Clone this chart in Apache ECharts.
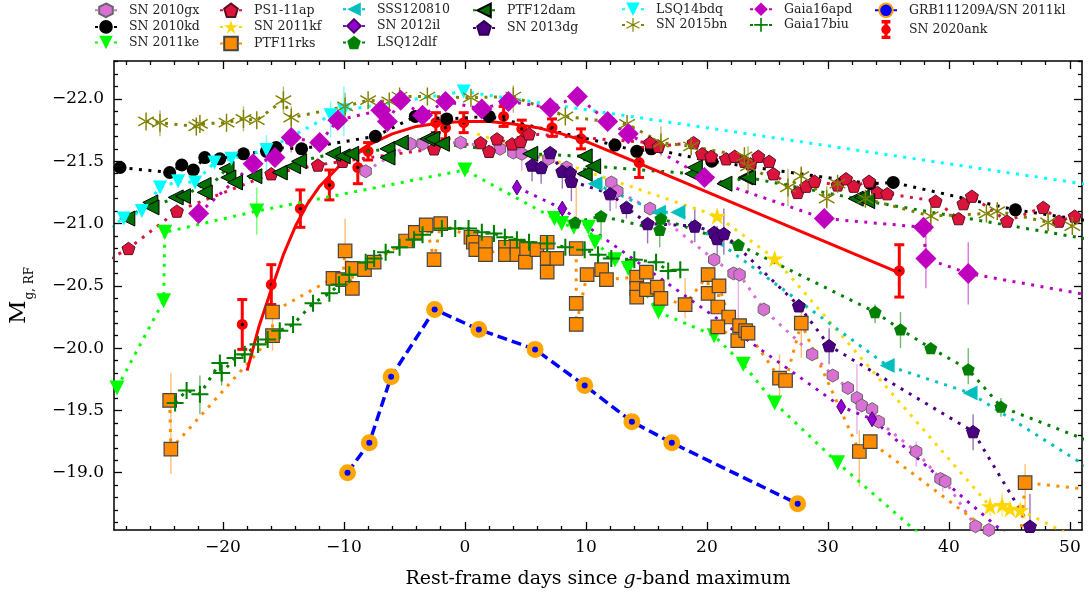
<!DOCTYPE html>
<html><head><meta charset="utf-8">
<script src="https://cdn.jsdelivr.net/npm/echarts@6/dist/echarts.min.js"></script>
<style>html,body{margin:0;padding:0;background:#fff}#c{width:1090px;height:594px}</style>
</head><body><div id="c"></div>
<script>
// ---------------- data: [rest-frame day, M_g] ----------------
const sn2010gx = [[-8.2,-21.42],[-4.5,-21.64],[-3.5,-21.64],[-0.35,-21.65],[2.9,-21.60],[4.0,-21.57],[4.7,-21.56],[6.9,-21.52],[8.4,-21.45],[8.55,-21.41],[12.1,-21.33],[12.6,-21.26],[15.3,-21.12],[20.6,-20.71],[22.2,-20.60],[22.7,-20.59],[24.7,-20.31],[28.7,-19.95],[30.4,-19.78],[31.65,-19.68],[32.4,-19.60],[32.8,-19.54],[33.65,-19.51],[34.2,-19.41],[37.3,-19.17],[39.3,-18.95],[39.7,-18.93],[42.2,-18.57],[43.3,-18.54],[46,-18.3]];
const sn2010kd = [[-28.5,-21.45],[-24.4,-21.41],[-23.4,-21.47],[-22.45,-21.43],[-21.5,-21.53],[-20.25,-21.52],[-18.3,-21.56],[-16.4,-21.58],[-15.6,-21.61],[-13.5,-21.60],[-7.4,-21.70],[-4.1,-21.86],[-1.5,-21.84],[2.0,-21.86],[12.4,-21.63],[14.2,-21.58],[15.4,-21.60],[20.4,-21.50],[33.5,-21.32],[35.4,-21.33],[45.5,-21.11],[53,-21.0]];
const sn2011ke = [[-28.75,-19.68],[-24.9,-20.38],[-24.8,-20.93],[-17.2,-21.10],[0.0,-21.43],[7.4,-21.04],[8.0,-21.0],[9.0,-20.97],[10.2,-20.97],[10.75,-20.85],[12.4,-20.71],[13.5,-20.64],[16.0,-20.29],[20.6,-20.10],[23.0,-19.87],[25.6,-19.56],[30.8,-19.08],[40,-18.3]];
const ps1_11ap = [[-30,-20.68],[-27.8,-20.80],[-23.8,-21.10],[-16.0,-21.40],[-12.15,-21.47],[-10.1,-21.50],[-2.55,-21.60],[1.3,-21.65],[2.0,-21.58],[2.65,-21.68],[3.9,-21.64],[4.6,-21.66],[5.3,-21.72],[15.3,-21.65],[16.0,-21.62],[18.9,-21.65],[19.6,-21.56],[20.35,-21.54],[21.6,-21.52],[22.3,-21.54],[23.1,-21.50],[23.6,-21.48],[24.25,-21.54],[25.15,-21.50],[25.5,-21.40],[27.5,-21.25],[28.2,-21.30],[28.9,-21.34],[30.8,-21.31],[31.5,-21.36],[32.15,-21.30],[33.4,-21.34],[34.1,-21.25],[34.9,-21.24],[38.9,-21.18],[40.8,-21.04],[41.2,-21.16],[41.9,-21.22],[44.8,-21.02],[47.8,-21.13],[49.1,-21.02],[50.4,-21.06]];
const sn2011kf = [[1.0,-21.72],[20.85,-21.06],[25.6,-20.72],[43.4,-18.73],[44.4,-18.74],[45.05,-18.71],[45.9,-18.70],[52,-18.4]];
const ptf11rks = [[-24.4,-19.58],[-24.3,-19.19],[-15.9,-20.10],[-15.9,-20.29],[-10.9,-20.56],[-10.1,-20.55],[-9.9,-20.78],[-9.3,-20.48],[-9.3,-20.64],[-8.3,-20.63],[-7.5,-20.69],[-4.9,-20.86],[-4.1,-20.93],[-3.2,-20.99],[-2.55,-20.71],[-2.0,-21.00],[0.5,-20.89],[0.7,-20.85],[0.9,-20.79],[1.7,-20.84],[1.7,-20.75],[3.35,-20.81],[3.35,-20.75],[4.3,-20.81],[4.3,-20.75],[5.0,-20.69],[5.1,-20.80],[5.95,-20.79],[6.8,-20.85],[6.8,-20.72],[6.8,-20.61],[7.6,-20.72],[9.2,-20.80],[9.2,-20.36],[9.2,-20.19],[10.1,-20.59],[11.3,-20.63],[11.7,-20.55],[14.2,-20.57],[14.2,-20.48],[14.2,-20.41],[15.0,-20.47],[15.0,-20.61],[15.9,-20.49],[16.2,-20.40],[18.2,-20.35],[20.1,-20.59],[20.1,-20.44],[20.9,-20.33],[21.0,-20.50],[21.8,-20.25],[20.9,-20.17],[22.55,-20.06],[22.7,-20.18],[23.2,-20.14],[23.4,-20.12],[26.0,-19.76],[26.5,-19.74],[27.8,-20.20],[32.6,-19.17],[33.5,-19.25],[45.8,-18.35],[46.3,-18.92],[53,-18.85]];
const sss120810 = [[10.75,-21.32],[16.0,-21.09],[17.6,-21.09],[34.9,-19.86],[41.75,-19.64],[53,-18.95]];
const sn2012il = [[4.3,-21.29],[8.05,-21.12],[31.1,-19.53],[33.65,-19.43],[48,-18.23]];
const lsq12dlf = [[9.1,-21.01],[11.25,-21.06],[16.1,-20.95],[16.2,-21.04],[22.6,-20.83],[33.9,-20.29],[36.0,-20.15],[38.5,-20.0],[41.6,-19.83],[44.3,-19.53],[53,-19.2]];
const ptf12dam = [[-27.9,-21.04],[-26.0,-21.17],[-25.9,-21.13],[-23.9,-21.21],[-23.3,-21.22],[-21.6,-21.31],[-21.5,-21.25],[-19.7,-21.44],[-19.55,-21.37],[-19.0,-21.33],[-17.4,-21.38],[-15.3,-21.41],[-14.2,-21.46],[-13.7,-21.50],[-10.9,-21.56],[-10.1,-21.54],[-9.4,-21.56],[-6.4,-21.60],[-6.4,-21.53],[-5.3,-21.65],[-3.1,-21.68],[-2.7,-21.68],[-1.9,-21.64],[5.4,-21.56],[9.9,-21.54],[9.9,-21.40],[10.6,-21.46],[18.8,-21.40],[19.0,-21.45],[21.45,-21.32],[23.2,-21.37],[23.4,-21.37],[32.3,-21.20],[32.8,-21.21],[33.25,-21.18],[53,-20.85]];
const sn2013dg = [[5.55,-21.47],[6.3,-21.45],[7.05,-21.57],[8.05,-21.42],[8.7,-21.41],[8.8,-21.34],[12.0,-21.24],[13.35,-21.13],[15.1,-21.0],[19.0,-20.98],[20.6,-20.93],[20.85,-20.88],[21.4,-20.92],[27.6,-20.34],[30.1,-20.02],[42.0,-19.33],[46.7,-18.57]];
const lsq14bdq = [[-30,-20.93],[-28.2,-21.04],[-26.7,-21.10],[-25.2,-21.29],[-23.7,-21.34],[-22.3,-21.33],[-20.7,-21.49],[-19.3,-21.52],[-16.4,-21.59],[-11.1,-21.87],[-10.0,-21.91],[-0.1,-22.06],[60,-21.19]];
const sn2015bn = [[-26.35,-21.82],[-25.2,-21.81],[-22.2,-21.78],[-21.9,-21.80],[-19.7,-21.81],[-18.3,-21.84],[-17.2,-21.83],[-15.0,-21.99],[-14.35,-21.85],[-9.9,-21.94],[-8.0,-21.99],[-6.25,-21.98],[-5.4,-22.02],[-3.1,-22.02],[0.5,-22.01],[4.0,-22.02],[8.3,-21.86],[13.4,-21.80],[16.2,-21.65],[18.7,-21.62],[23.1,-21.54],[23.4,-21.46],[26.7,-21.29],[27.8,-21.38],[29.9,-21.20],[30.8,-21.32],[33.1,-21.20],[38.5,-21.06],[43.1,-21.08],[44.0,-21.10],[48.2,-21.01],[50.2,-20.98]];
const gaia16apd = [[-22.0,-21.08],[-17.5,-21.48],[-15.7,-21.53],[-14.35,-21.69],[-12.0,-21.65],[-10.5,-21.83],[-6.95,-21.91],[-6.4,-21.82],[-5.3,-21.99],[-3.5,-21.87],[-1.6,-21.98],[1.4,-21.92],[3.6,-21.98],[7.05,-21.93],[9.3,-22.02],[11.8,-21.82],[13.5,-21.72],[19.8,-21.37],[29.7,-21.04],[37.9,-20.97],[38.1,-20.72],[41.6,-20.60],[53,-20.40]];
const gaia17biu = [[-23.95,-19.56],[-23.0,-19.66],[-21.9,-19.63],[-20.25,-19.88],[-20.1,-19.80],[-19.0,-19.92],[-18.2,-19.95],[-17.1,-20.03],[-16.3,-20.07],[-15.3,-20.14],[-14.2,-20.19],[-12.55,-20.36],[-11.2,-20.44],[-10.4,-20.51],[-9.55,-20.59],[-8.2,-20.69],[-7.5,-20.72],[-6.55,-20.77],[-5.4,-20.81],[-4.2,-20.87],[-3.5,-20.91],[-1.9,-20.96],[-0.8,-20.96],[0.3,-20.96],[1.4,-20.93],[2.4,-20.92],[3.3,-20.89],[4.3,-20.87],[5.3,-20.85],[6.8,-20.84],[8.3,-20.81],[9.9,-20.79],[11.0,-20.75],[12.1,-20.72],[14.0,-20.71],[15.8,-20.69],[16.8,-20.62],[17.8,-20.63]];
const grb111209a = [[-9.7,-19.0],[-7.9,-19.24],[-6.1,-19.77],[-2.5,-20.31],[1.15,-20.15],[5.8,-19.99],[9.9,-19.70],[13.8,-19.41],[17.1,-19.24],[27.5,-18.75]];
// SN 2020ank: [day, M_g, error]
const sn2020ank = [[-18.4,-20.19,0.20],[-16.0,-20.51,0.16],[-13.6,-21.12,0.15],[-11.2,-21.31,0.12],[-8.85,-21.45,0.13],[-8.0,-21.58,0.07],[-2.4,-21.81,0.08],[-1.6,-21.77,0.09],[-0.1,-21.81,0.08],[3.2,-21.86,0.08],[4.7,-21.76,0.07],[7.2,-21.77,0.07],[9.6,-21.68,0.08],[14.4,-21.49,0.12],[35.9,-20.62,0.21]];
// SN 2020ank model curve
const sn2020ankFit = [[-18.0,-19.82],[-17.0,-20.18],[-16.0,-20.47],[-15.0,-20.75],[-14.0,-20.98],[-13.0,-21.16],[-12.0,-21.30],[-10.0,-21.50],[-8.0,-21.63],[-6.0,-21.72],[-4.0,-21.78],[-2.0,-21.81],[0.0,-21.82],[2.0,-21.82],[4.0,-21.80],[6.0,-21.77],[8.0,-21.72],[10.0,-21.66],[12.0,-21.58],[14.0,-21.50],[36.0,-20.60]];

// error bars of the comparison objects: [day, upper M_g, lower M_g]
const err2010gx = [[4.7,-21.56,-21.42],[8.4,-21.46,-21.30],[12.5,-21.26,-21.12],[22.6,-20.59,-20.22],[32.4,-19.87,-19.31],[37.3,-19.25,-19.05],[39.5,-19.0,-18.85]];
const err2011ke = [[-17.2,-21.29,-20.91]];
const err2011kf = [[43.4,-18.80,-18.65],[44.4,-18.84,-18.64]];
const errPtf11rks = [[-24.3,-19.80,-18.99],[-15.9,-20.32,-19.98],[-9.9,-21.04,-20.64],[9.2,-21.34,-21.01],[18.2,-20.56,-20.24],[26.0,-19.95,-19.60],[27.8,-20.35,-19.92],[32.6,-19.34,-18.89],[46.3,-19.07,-18.70]];
const errLsq12dlf = [[11.25,-21.06,-20.87],[16.1,-20.95,-20.81],[33.9,-20.35,-20.20],[36.0,-20.29,-20.0],[41.6,-20.0,-19.71],[44.3,-19.60,-19.45]];
const err2013dg = [[5.55,-21.48,-21.34],[6.3,-21.45,-21.32],[8.05,-21.42,-21.28],[8.8,-21.34,-21.18],[12.0,-21.24,-21.10],[13.35,-21.13,-21.04],[15.1,-21.0,-20.84],[19.0,-21.12,-20.85],[20.85,-20.98,-20.72],[21.4,-21.12,-20.75],[30.1,-20.16,-19.87],[42.0,-19.47,-19.18],[46.7,-18.83,-18.57]];
const errLsq14bdq = [[-16.4,-21.71,-21.39],[-11.1,-21.98,-21.69],[-10.0,-22.10,-21.70]];
const err2015bn = [[-25.2,-21.91,-21.70],[-18.3,-21.94,-21.74],[-15.0,-22.10,-21.89],[-14.35,-21.94,-21.74],[-9.9,-22.05,-21.82],[4.0,-22.11,-21.89],[16.2,-21.78,-21.54],[23.4,-21.62,-21.25],[26.7,-21.44,-21.14],[27.8,-21.46,-21.30],[29.9,-21.30,-21.12],[38.5,-21.14,-20.93],[48.2,-21.08,-20.94]];
const errGaia16apd = [[-14.35,-21.76,-21.57],[38.1,-20.98,-20.48],[41.6,-20.85,-20.35]];
const errGaia17biu = [[-21.9,-19.78,-19.47],[-20.1,-19.88,-19.70]];

const xMajor = [-20,-10,0,10,20,30,40,50];
const yMajor = [-22.0,-21.5,-21.0,-20.5,-20.0,-19.5,-19.0];
const legendCols = [
  ['SN 2010gx','SN 2010kd','SN 2011ke'],
  ['PS1-11ap','SN 2011kf','PTF11rks'],
  ['SSS120810','SN 2012il','LSQ12dlf'],
  ['PTF12dam','SN 2013dg'],
  ['LSQ14bdq','SN 2015bn'],
  ['Gaia16apd','Gaia17biu'],
  ['GRB111209A/SN 2011kl','SN 2020ank']
];

// ---------------- layout / style ----------------
const FONT = 'DejaVu Serif';
const X0 = -29, X1 = 51, Y0 = -22.305, Y1 = -18.54;
const xMinor = [], yMinor = [];
for (let v = -28; v <= 50; v += 2) if (v % 10 !== 0) xMinor.push(v);
for (let i = -223; i <= -186; i++) { if (i % 5 !== 0) yMinor.push(i / 10); }

const SYM = {
  hex: 'path://M50,0L93.3,25L93.3,75L50,100L6.7,75L6.7,25Z',
  pent: 'path://M50,0L97.6,34.5L79.4,90.5L20.6,90.5L2.4,34.5Z',
  star: 'path://M50,0L61.23,34.55L97.55,34.55L68.17,55.9L79.39,90.45L50,69.1L20.61,90.45L31.83,55.9L2.45,34.55L38.77,34.55Z',
  tdown: 'path://M0,0L100,0L50,100Z',
  tleft: 'path://M0,50L100,0L100,100Z',
  thind: 'path://M30,0L60,50L30,100L0,50Z',
  plus: 'path://M44,0L56,0L56,44L100,44L100,56L56,56L56,100L44,100L44,56L0,56L0,44L44,44Z',
  aster: 'path://M46,0L54,0L54,100L46,100ZM91.3,21.54L95.3,28.46L8.7,78.46L4.7,71.54ZM8.7,21.54L4.7,28.46L91.3,78.46L95.3,71.54Z',
  ankLegend: 'path://M46,0L54,0L54,100L46,100ZM30,0L70,0L70,8L30,8ZM30,92L70,92L70,100L30,100ZM50,28A22,22 0 1,1 49.99,28Z'
};
const DOT = [3, 6.5];

function lineSeries(name, data, color, symbol, size, opt) {
  opt = opt || {};
  return {
    name, type: 'line', data, symbol, symbolSize: size, symbolKeepAspect: true,
    showSymbol: true, showAllSymbol: true, clip: true, animation: false, silent: true,
    lineStyle: { color: opt.lineColor || color, width: opt.lineWidth || 3, type: opt.dash || DOT },
    itemStyle: { color, borderColor: opt.edge || color, borderWidth: opt.edgeWidth != null ? opt.edgeWidth : (opt.edge ? 1 : 0), opacity: 1 },
    emphasis: { disabled: true }
  };
}
function errSeries(data, color) {
  return {
    type: 'custom', data, clip: true, animation: false, silent: true, encode: { x: 0, y: [1, 2] },
    renderItem: function (params, api) {
      const p1 = api.coord([api.value(0), api.value(1)]), p2 = api.coord([api.value(0), api.value(2)]);
      return { type: 'line', shape: { x1: p1[0], y1: p1[1], x2: p2[0], y2: p2[1] },
               style: { stroke: color, lineWidth: 1.4, opacity: 0.55 } };
    }
  };
}

const kfData = sn2011kf.map((p, i) => i === 0 ? { value: p, symbol: 'none' } : p);

const series = [
  errSeries(err2010gx, '#DA70D6'),
  lineSeries('SN 2010gx', sn2010gx, '#DA70D6', SYM.hex, 13, { edge: '#666' }),
  lineSeries('SN 2010kd', sn2010kd, '#000000', 'circle', 13),
  errSeries(err2011ke, '#00FF00'),
  lineSeries('SN 2011ke', sn2011ke, '#00FF00', SYM.tdown, 15),
  lineSeries('PS1-11ap', ps1_11ap, '#DC143C', SYM.pent, 13, { edge: '#5a1020' }),
  errSeries(err2011kf, '#FFD700'),
  lineSeries('SN 2011kf', kfData, '#FFD700', SYM.star, 18),
  errSeries(errPtf11rks, '#FF8C00'),
  lineSeries('PTF11rks', ptf11rks, '#FF8C00', 'rect', 13.5, { edge: '#444', edgeWidth: 1.2 }),
  lineSeries('SSS120810', sss120810, '#00BFBF', SYM.tleft, 15),
  lineSeries('SN 2012il', sn2012il, '#9400D3', SYM.thind, 15, { edge: '#4a0070' }),
  errSeries(errLsq12dlf, '#008000'),
  lineSeries('LSQ12dlf', lsq12dlf, '#008000', SYM.pent, 13),
  lineSeries('PTF12dam', ptf12dam, '#007000', SYM.tleft, 15, { edge: '#000', lineColor: '#008000' }),
  errSeries(err2013dg, '#4B0082'),
  lineSeries('SN 2013dg', sn2013dg, '#4B0082', SYM.pent, 13, { edge: '#300050' }),
  errSeries(errLsq14bdq, '#00FFFF'),
  lineSeries('LSQ14bdq', lsq14bdq, '#00FFFF', SYM.tdown, 14),
  errSeries(err2015bn, '#808000'),
  lineSeries('SN 2015bn', sn2015bn, '#808000', SYM.aster, 18),
  errSeries(errGaia16apd, '#BF00BF'),
  lineSeries('Gaia16apd', gaia16apd, '#BF00BF', 'diamond', 21),
  errSeries(errGaia17biu, '#008000'),
  lineSeries('Gaia17biu', gaia17biu, '#008000', SYM.plus, 17),
  lineSeries('GRB111209A/SN 2011kl', grb111209a, '#0000FF', 'circle', 11.5,
    { edge: '#FFA500', edgeWidth: 5.5, dash: [10, 5], lineWidth: 3.5 }),
  {
    type: 'line', data: sn2020ankFit, symbol: 'none', clip: true, animation: false, silent: true,
    lineStyle: { color: '#FF0000', width: 3 }, emphasis: { disabled: true }
  },
  {
    type: 'custom', data: sn2020ank, clip: true, animation: false, silent: true,
    encode: { x: 0, y: 1 },
    renderItem: function (params, api) {
      const d = api.value(0), m = api.value(1), e = api.value(2);
      const p1 = api.coord([d, m - e]), p2 = api.coord([d, m + e]);
      const st = { stroke: '#FF0000', lineWidth: 3 };
      return { type: 'group', children: [
        { type: 'line', shape: { x1: p1[0], y1: p1[1], x2: p2[0], y2: p2[1] }, style: st },
        { type: 'line', shape: { x1: p1[0] - 5, y1: p1[1], x2: p1[0] + 5, y2: p1[1] }, style: st },
        { type: 'line', shape: { x1: p2[0] - 5, y1: p2[1], x2: p2[0] + 5, y2: p2[1] }, style: st }
      ] };
    }
  },
  {
    name: 'SN 2020ank', type: 'scatter', data: sn2020ank.map(p => [p[0], p[1]]), symbol: 'circle', symbolSize: 7.2,
    clip: true, animation: false, silent: true,
    itemStyle: { color: '#000', borderColor: '#FF0000', borderWidth: 3.8, opacity: 1 }, emphasis: { disabled: true }
  }
];

const tickStyle = { color: '#000', width: 1.3 };
function xAx(pos, ticks, len, withLine, withLabel) {
  return {
    type: 'value', min: X0, max: X1, position: pos, splitLine: { show: false },
    axisLine: { show: withLine, onZero: false, lineStyle: { color: '#000', width: 1.5 } },
    axisTick: { show: true, inside: true, length: len, customValues: ticks, lineStyle: tickStyle },
    axisLabel: withLabel ? { show: true, customValues: ticks, fontFamily: FONT, fontSize: 17, color: '#000', margin: 9,
      formatter: v => String(v).replace('-', '\u2212') } : { show: false }
  };
}
function yAx(pos, ticks, len, withLine, withLabel) {
  return {
    type: 'value', min: Y0, max: Y1, inverse: true, position: pos, splitLine: { show: false },
    axisLine: { show: withLine, onZero: false, lineStyle: { color: '#000', width: 1.5 } },
    axisTick: { show: true, inside: true, length: len, customValues: ticks, lineStyle: tickStyle },
    axisLabel: withLabel ? { show: true, customValues: ticks, fontFamily: FONT, fontSize: 17, color: '#000', margin: 10,
      formatter: v => v.toFixed(1).replace('-', '\u2212') } : { show: false }
  };
}

const xAxes = [xAx('bottom', xMajor, 8, true, true), xAx('bottom', xMinor, 4, false, false),
               xAx('top', xMajor, 8, true, false), xAx('top', xMinor, 4, false, false)];
Object.assign(xAxes[0], {
  name: 'Rest-frame days since {i|g}-band maximum', nameLocation: 'middle', nameGap: 40,
  nameTextStyle: { fontFamily: FONT, fontSize: 19, color: '#000', rich: { i: { fontFamily: FONT, fontSize: 19, fontStyle: 'italic', color: '#000' } } }
});
const yAxes = [yAx('left', yMajor, 8, true, true), yAx('left', yMinor, 4, false, false),
               yAx('right', yMajor, 8, true, false), yAx('right', yMinor, 4, false, false)];
Object.assign(yAxes[0], {
  name: '{m|M}{s|g, RF}', nameLocation: 'middle', nameGap: 78, nameRotate: 90,
  nameTextStyle: { fontFamily: FONT, color: '#000', rich: {
    m: { fontFamily: FONT, fontSize: 23, color: '#000', verticalAlign: 'top', lineHeight: 28 },
    s: { fontFamily: FONT, fontSize: 12, color: '#000', verticalAlign: 'bottom', lineHeight: 28, padding: [9, 0, 0, 1] } } }
});

const legendCenters = [105, 230, 353, 483, 632, 760, 885];
const legends = legendCols.map((names, i) => ({
  data: names.map(n => n === 'SN 2020ank'
    ? { name: n, icon: SYM.ankLegend, itemStyle: { color: '#FF0000' } } : n),
  orient: 'vertical', left: legendCenters[i] - 11, top: 2.5, padding: 0,
  itemWidth: 22, itemHeight: 17, itemGap: 2, selectedMode: false,
  textStyle: { fontFamily: FONT, fontSize: 12.5, color: '#222', padding: [0, 0, 0, 7] }
}));

const chart = echarts.init(document.getElementById('c'), null, { renderer: 'canvas' });
chart.setOption({
  backgroundColor: '#fff', animation: false,
  grid: { left: 111, right: 8, top: 61, bottom: 61, containLabel: false },
  legend: legends,
  xAxis: xAxes, yAxis: yAxes,
  series: series
});
</script></body></html>
